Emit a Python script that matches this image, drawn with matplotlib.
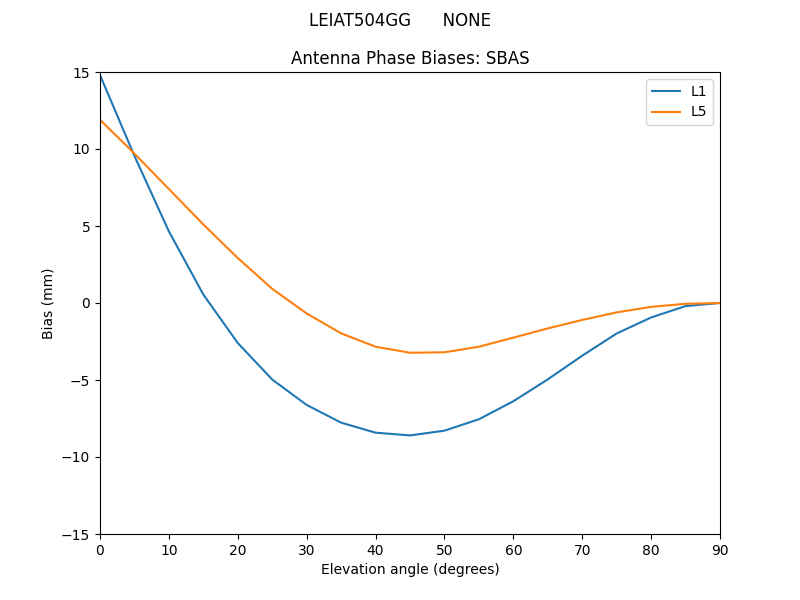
import numpy as np
import matplotlib
matplotlib.use("Agg")
import matplotlib.pyplot as plt

elevation = np.arange(0, 95, 5)
biasL1 = [14.8, 9.55, 4.65, 0.55, -2.6, -4.97, -6.62, -7.77, -8.42, -8.6,
          -8.29, -7.55, -6.38, -4.96, -3.42, -1.98, -0.94, -0.2, 0.0]
biasL5 = [11.9, 9.7, 7.4, 5.1, 2.92, 0.92, -0.68, -1.97, -2.84, -3.23,
          -3.2, -2.84, -2.25, -1.65, -1.1, -0.61, -0.25, -0.05, 0.0]

if __name__ == "__main__":
    fig, ax = plt.subplots(figsize=(8, 6), dpi=100)
    ax.plot(elevation, biasL1, label="L1")
    ax.plot(elevation, biasL5, label="L5")
    fig.suptitle("LEIAT504GG      NONE")
    ax.set_title("Antenna Phase Biases: SBAS")
    ax.set_xlabel("Elevation angle (degrees)")
    ax.set_ylabel("Bias (mm)")
    ax.set_xlim(0, 90)
    ax.set_ylim(-15, 15)
    ax.legend()
    fig.savefig("out.png")
